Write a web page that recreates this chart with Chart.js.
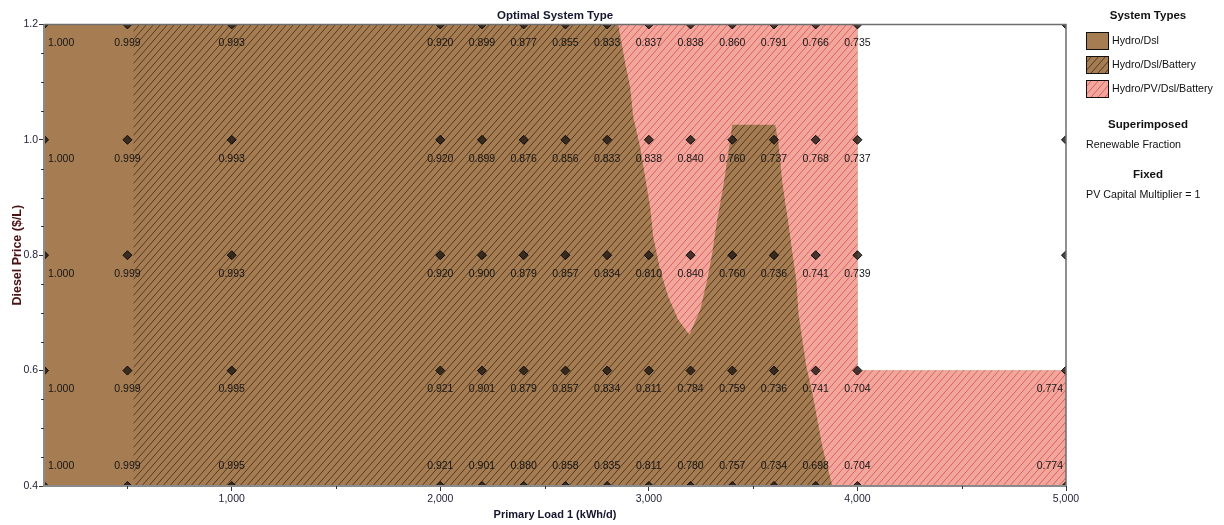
<!DOCTYPE html>
<html>
<head>
<meta charset="utf-8">
<script src="https://cdn.jsdelivr.net/npm/chart.js@4.4.1/dist/chart.umd.min.js"></script>
<style>
  html, body { margin: 0; padding: 0; background: #ffffff; }
  #wrap { width: 1224px; height: 525px; }
</style>
</head>
<body>
<div id="wrap"><canvas id="chart" width="1224" height="525"></canvas></div>
<script>
// Sensitivity grid: primary load (kWh/d) x diesel price ($/L)
const loads = [100, 500, 1000, 2000, 2200, 2400, 2600, 2800, 3000, 3200, 3400, 3600, 3800, 4000, 5000];
const dieselPrices = [1.2, 1.0, 0.8, 0.6, 0.4];

// Renewable fraction of the optimal system at each grid point (null = no feasible system)
const fractionAt120 = [1.000, 0.999, 0.993, 0.920, 0.899, 0.877, 0.855, 0.833, 0.837, 0.838, 0.860, 0.791, 0.766, 0.735, null];
const fractionAt100 = [1.000, 0.999, 0.993, 0.920, 0.899, 0.876, 0.856, 0.833, 0.838, 0.840, 0.760, 0.737, 0.768, 0.737, null];
const fractionAt080 = [1.000, 0.999, 0.993, 0.920, 0.900, 0.879, 0.857, 0.834, 0.810, 0.840, 0.760, 0.736, 0.741, 0.739, null];
const fractionAt060 = [1.000, 0.999, 0.995, 0.921, 0.901, 0.879, 0.857, 0.834, 0.811, 0.784, 0.759, 0.736, 0.741, 0.704, 0.774];
const fractionAt040 = [1.000, 0.999, 0.995, 0.921, 0.901, 0.880, 0.858, 0.835, 0.811, 0.780, 0.757, 0.734, 0.698, 0.704, 0.774];

// Axis ticks
const xTickValues = [1000, 2000, 3000, 4000, 5000];
const xMinorTicks = [500, 1500, 2500, 3500, 4500];
const yTickValues = [0.4, 0.6, 0.8, 1.0, 1.2];
const yMinorTicks = [0.45, 0.5, 0.55, 0.65, 0.7, 0.75, 0.85, 0.9, 0.95, 1.05, 1.1, 1.15];

// Region boundaries of the optimal system type
const hydroDslLimit = 530;            // load above which a battery enters the optimum
const feasibleLoadLimitHigh = 4000;   // largest load solved above the 0.6 $/L price
const feasiblePriceLimitHigh = 0.6;   // highest price solved at 5,000 kWh/d
const pvRegionLoads  = [2853, 2886, 2910, 2925, 2958, 2982, 3006, 3021, 3054, 3093, 3141, 3194,
                        3246, 3280, 3304, 3328, 3357, 3381, 3400,
                        3606, 3621, 3640, 3654, 3669, 3688, 3707, 3717, 3736, 3755, 3784, 3808, 3832, 3856, 3880,
                        5000, 5000, 4000, 4000];
const pvRegionPrices = [1.200, 1.134, 1.092, 1.040, 0.988, 0.936, 0.884, 0.832, 0.775, 0.728, 0.688, 0.662,
                        0.705, 0.757, 0.804, 0.862, 0.919, 0.978, 1.026,
                        1.026, 0.995, 0.926, 0.891, 0.856, 0.804, 0.757, 0.700, 0.653, 0.607, 0.561, 0.515, 0.468, 0.433, 0.400,
                        0.400, 0.600, 0.600, 1.200];

const fractionRows = [fractionAt120, fractionAt100, fractionAt080, fractionAt060, fractionAt040];

const xMin = loads[0], xMax = loads[loads.length - 1];
const yMin = dieselPrices[dieselPrices.length - 1], yMax = dieselPrices[0];

const canvas = document.getElementById('chart');
const ctx = canvas.getContext('2d');

// Diagonal hatch fill
function hatch(base, lineColor, w, h, lw) {
  const tile = document.createElement('canvas');
  tile.width = w; tile.height = h;
  const g = tile.getContext('2d');
  g.fillStyle = base;
  g.fillRect(0, 0, w, h);
  g.strokeStyle = lineColor;
  g.lineWidth = lw;
  for (let k = -1; k <= 1; k++) {
    g.beginPath();
    g.moveTo(k * w - w, 2 * h);
    g.lineTo(k * w + 2 * w, -h);
    g.stroke();
  }
  return ctx.createPattern(tile, 'repeat');
}

const brownSolid = '#A67C52';
const brownHatch = hatch('#A67C52', '#4a331d', 7, 8, 0.9);
const pinkHatch = hatch('#F2A79E', '#DA5A50', 7, 8, 0.9);

const systemTypes = [
  { name: 'Hydro/Dsl', fill: brownSolid },
  { name: 'Hydro/Dsl/Battery', fill: brownHatch },
  { name: 'Hydro/PV/Dsl/Battery', fill: pinkHatch }
];

// Datasets
const batteryRegion = [
  { x: xMin, y: yMin }, { x: xMax, y: yMin }, { x: xMax, y: feasiblePriceLimitHigh },
  { x: feasibleLoadLimitHigh, y: feasiblePriceLimitHigh }, { x: feasibleLoadLimitHigh, y: yMax }, { x: xMin, y: yMax }
];
const hydroDslRegion = [
  { x: xMin, y: yMin }, { x: hydroDslLimit, y: yMin }, { x: hydroDslLimit, y: yMax }, { x: xMin, y: yMax }
];
const pvRegion = pvRegionLoads.map((x, i) => ({ x, y: pvRegionPrices[i] }));

const gridPoints = [];
dieselPrices.forEach(p => loads.forEach(l => gridPoints.push({ x: l, y: p })));

function regionDataset(label, data, fill, order) {
  return {
    label, data, order,
    showLine: true, fill: 'shape',
    backgroundColor: fill, borderWidth: 0, borderColor: 'rgba(0,0,0,0)',
    pointRadius: 0, tension: 0
  };
}

// Renewable fraction labels
const fractionLabels = {
  id: 'fractionLabels',
  afterDatasetsDraw(chart) {
    const { ctx, chartArea: a, scales: { x, y } } = chart;
    ctx.save();
    ctx.font = '10.5px "Liberation Sans", Arial, sans-serif';
    ctx.fillStyle = '#161616';
    ctx.textAlign = 'center';
    ctx.textBaseline = 'middle';
    fractionRows.forEach((row, r) => {
      const py = y.getPixelForValue(dieselPrices[r]);
      row.forEach((v, c) => {
        if (v === null) return;
        const txt = v.toFixed(3);
        const w = ctx.measureText(txt).width;
        let px = x.getPixelForValue(loads[c]);
        px = Math.max(px, a.left + 4 + w / 2);
        px = Math.min(px, a.right - 3 - w / 2);
        const ty = Math.min(py + 19, a.bottom - 20);
        ctx.fillText(txt, px, ty);
      });
    });
    ctx.restore();
  }
};

// Plot frame and minor ticks
const frame = {
  id: 'frame',
  afterDraw(chart) {
    const { ctx, chartArea: a, scales: { x, y } } = chart;
    ctx.save();
    ctx.strokeStyle = '#6e6e6e';
    ctx.lineWidth = 1.5;
    ctx.beginPath();
    ctx.moveTo(a.left, a.top); ctx.lineTo(a.right, a.top); ctx.lineTo(a.right, a.bottom);
    ctx.stroke();
    ctx.strokeStyle = '#8a8a8a';
    ctx.lineWidth = 2;
    ctx.beginPath();
    ctx.moveTo(a.left, a.top); ctx.lineTo(a.left, a.bottom); ctx.lineTo(a.right, a.bottom);
    ctx.stroke();
    ctx.strokeStyle = '#333333';
    ctx.lineWidth = 1;
    ctx.beginPath();
    xMinorTicks.forEach(v => {
      const px = Math.round(x.getPixelForValue(v)) + 0.5;
      ctx.moveTo(px, a.bottom); ctx.lineTo(px, a.bottom + 3);
    });
    yMinorTicks.forEach(v => {
      const py = Math.round(y.getPixelForValue(v)) + 0.5;
      ctx.moveTo(a.left - 3, py); ctx.lineTo(a.left, py);
    });
    ctx.stroke();
    ctx.restore();
  }
};

// Side panel: system type key and run notes
const sidePanel = {
  id: 'sidePanel',
  afterDraw(chart) {
    const { ctx } = chart;
    const cx = 1148, left = 1086;
    ctx.save();
    ctx.fillStyle = '#111111';
    ctx.textAlign = 'center';
    ctx.textBaseline = 'middle';
    ctx.font = 'bold 11.5px "Liberation Sans", Arial, sans-serif';
    ctx.fillText('System Types', cx, 16);
    const rows = [41, 65, 89];
    systemTypes.forEach((t, i) => {
      const top = rows[i] - 9;
      ctx.fillStyle = t.fill;
      ctx.fillRect(left, top, 23, 18);
      ctx.strokeStyle = '#111111';
      ctx.lineWidth = 1;
      ctx.strokeRect(left + 0.5, top + 0.5, 22, 17);
      ctx.fillStyle = '#111111';
      ctx.textAlign = 'left';
      ctx.font = '10.7px "Liberation Sans", Arial, sans-serif';
      ctx.fillText(t.name, 1112, rows[i]);
    });
    ctx.textAlign = 'center';
    ctx.font = 'bold 11.5px "Liberation Sans", Arial, sans-serif';
    ctx.fillText('Superimposed', cx, 125);
    ctx.fillText('Fixed', cx, 175);
    ctx.textAlign = 'left';
    ctx.font = '10.7px "Liberation Sans", Arial, sans-serif';
    ctx.fillText('Renewable Fraction', left, 145);
    ctx.fillText('PV Capital Multiplier = 1', left, 195);
    ctx.restore();
  }
};

new Chart(ctx, {
  type: 'scatter',
  data: {
    datasets: [
      {
        label: 'Sensitivity cases',
        data: gridPoints,
        order: 0,
        showLine: false,
        pointStyle: 'rectRot',
        pointRadius: 4.5,
        backgroundColor: 'rgba(30,22,16,0.8)',
        borderColor: '#0d0d0d',
        borderWidth: 1,
        clip: 0
      },
      regionDataset('Hydro/PV/Dsl/Battery', pvRegion, pinkHatch, 1),
      regionDataset('Hydro/Dsl', hydroDslRegion, brownSolid, 2),
      regionDataset('Hydro/Dsl/Battery', batteryRegion, brownHatch, 3)
    ]
  },
  options: {
    responsive: false,
    animation: false,
    events: [],
    devicePixelRatio: 1,
    layout: { padding: { left: 0, right: 158, top: 0, bottom: 0 } },
    plugins: {
      legend: { display: false },
      tooltip: { enabled: false },
      title: {
        display: true,
        text: 'Optimal System Type',
        fullSize: false,
        color: '#15152e',
        font: { family: '"Liberation Sans", Arial, sans-serif', size: 11.5, weight: 'bold' },
        padding: { top: 9, bottom: 1.6 }
      }
    },
    scales: {
      x: {
        type: 'linear',
        min: xMin,
        max: xMax,
        afterBuildTicks: s => { s.ticks = xTickValues.map(v => ({ value: v })); },
        afterFit: s => { s.height = 39; },
        border: { display: false },
        grid: { display: true, drawOnChartArea: false, drawTicks: true, tickLength: 5, color: '#333333' },
        ticks: {
          color: '#23233a',
          padding: 2,
          maxRotation: 0,
          font: { family: '"Liberation Sans", Arial, sans-serif', size: 10.5 },
          callback: v => Number(v).toLocaleString('en-US')
        },
        title: {
          display: true,
          text: 'Primary Load 1 (kWh/d)',
          color: '#15152e',
          font: { family: '"Liberation Sans", Arial, sans-serif', size: 11, weight: 'bold' },
          padding: { top: 0, bottom: 3.4 }
        }
      },
      y: {
        type: 'linear',
        min: yMin,
        max: yMax,
        afterBuildTicks: s => { s.ticks = yTickValues.map(v => ({ value: v })); },
        afterFit: s => { s.width = 44; },
        border: { display: false },
        grid: { display: true, drawOnChartArea: false, drawTicks: true, tickLength: 5, color: '#333333' },
        ticks: {
          color: '#23233a',
          padding: 1,
          font: { family: '"Liberation Sans", Arial, sans-serif', size: 10.5 },
          callback: v => Number(v).toFixed(1)
        },
        title: {
          display: true,
          text: 'Diesel Price ($/L)',
          color: '#4a1212',
          font: { family: '"Liberation Sans", Arial, sans-serif', size: 12.5, weight: 'bold' },
          padding: { top: 10.5, bottom: 0 }
        }
      }
    }
  },
  plugins: [fractionLabels, frame, sidePanel]
});
</script>
</body>
</html>
